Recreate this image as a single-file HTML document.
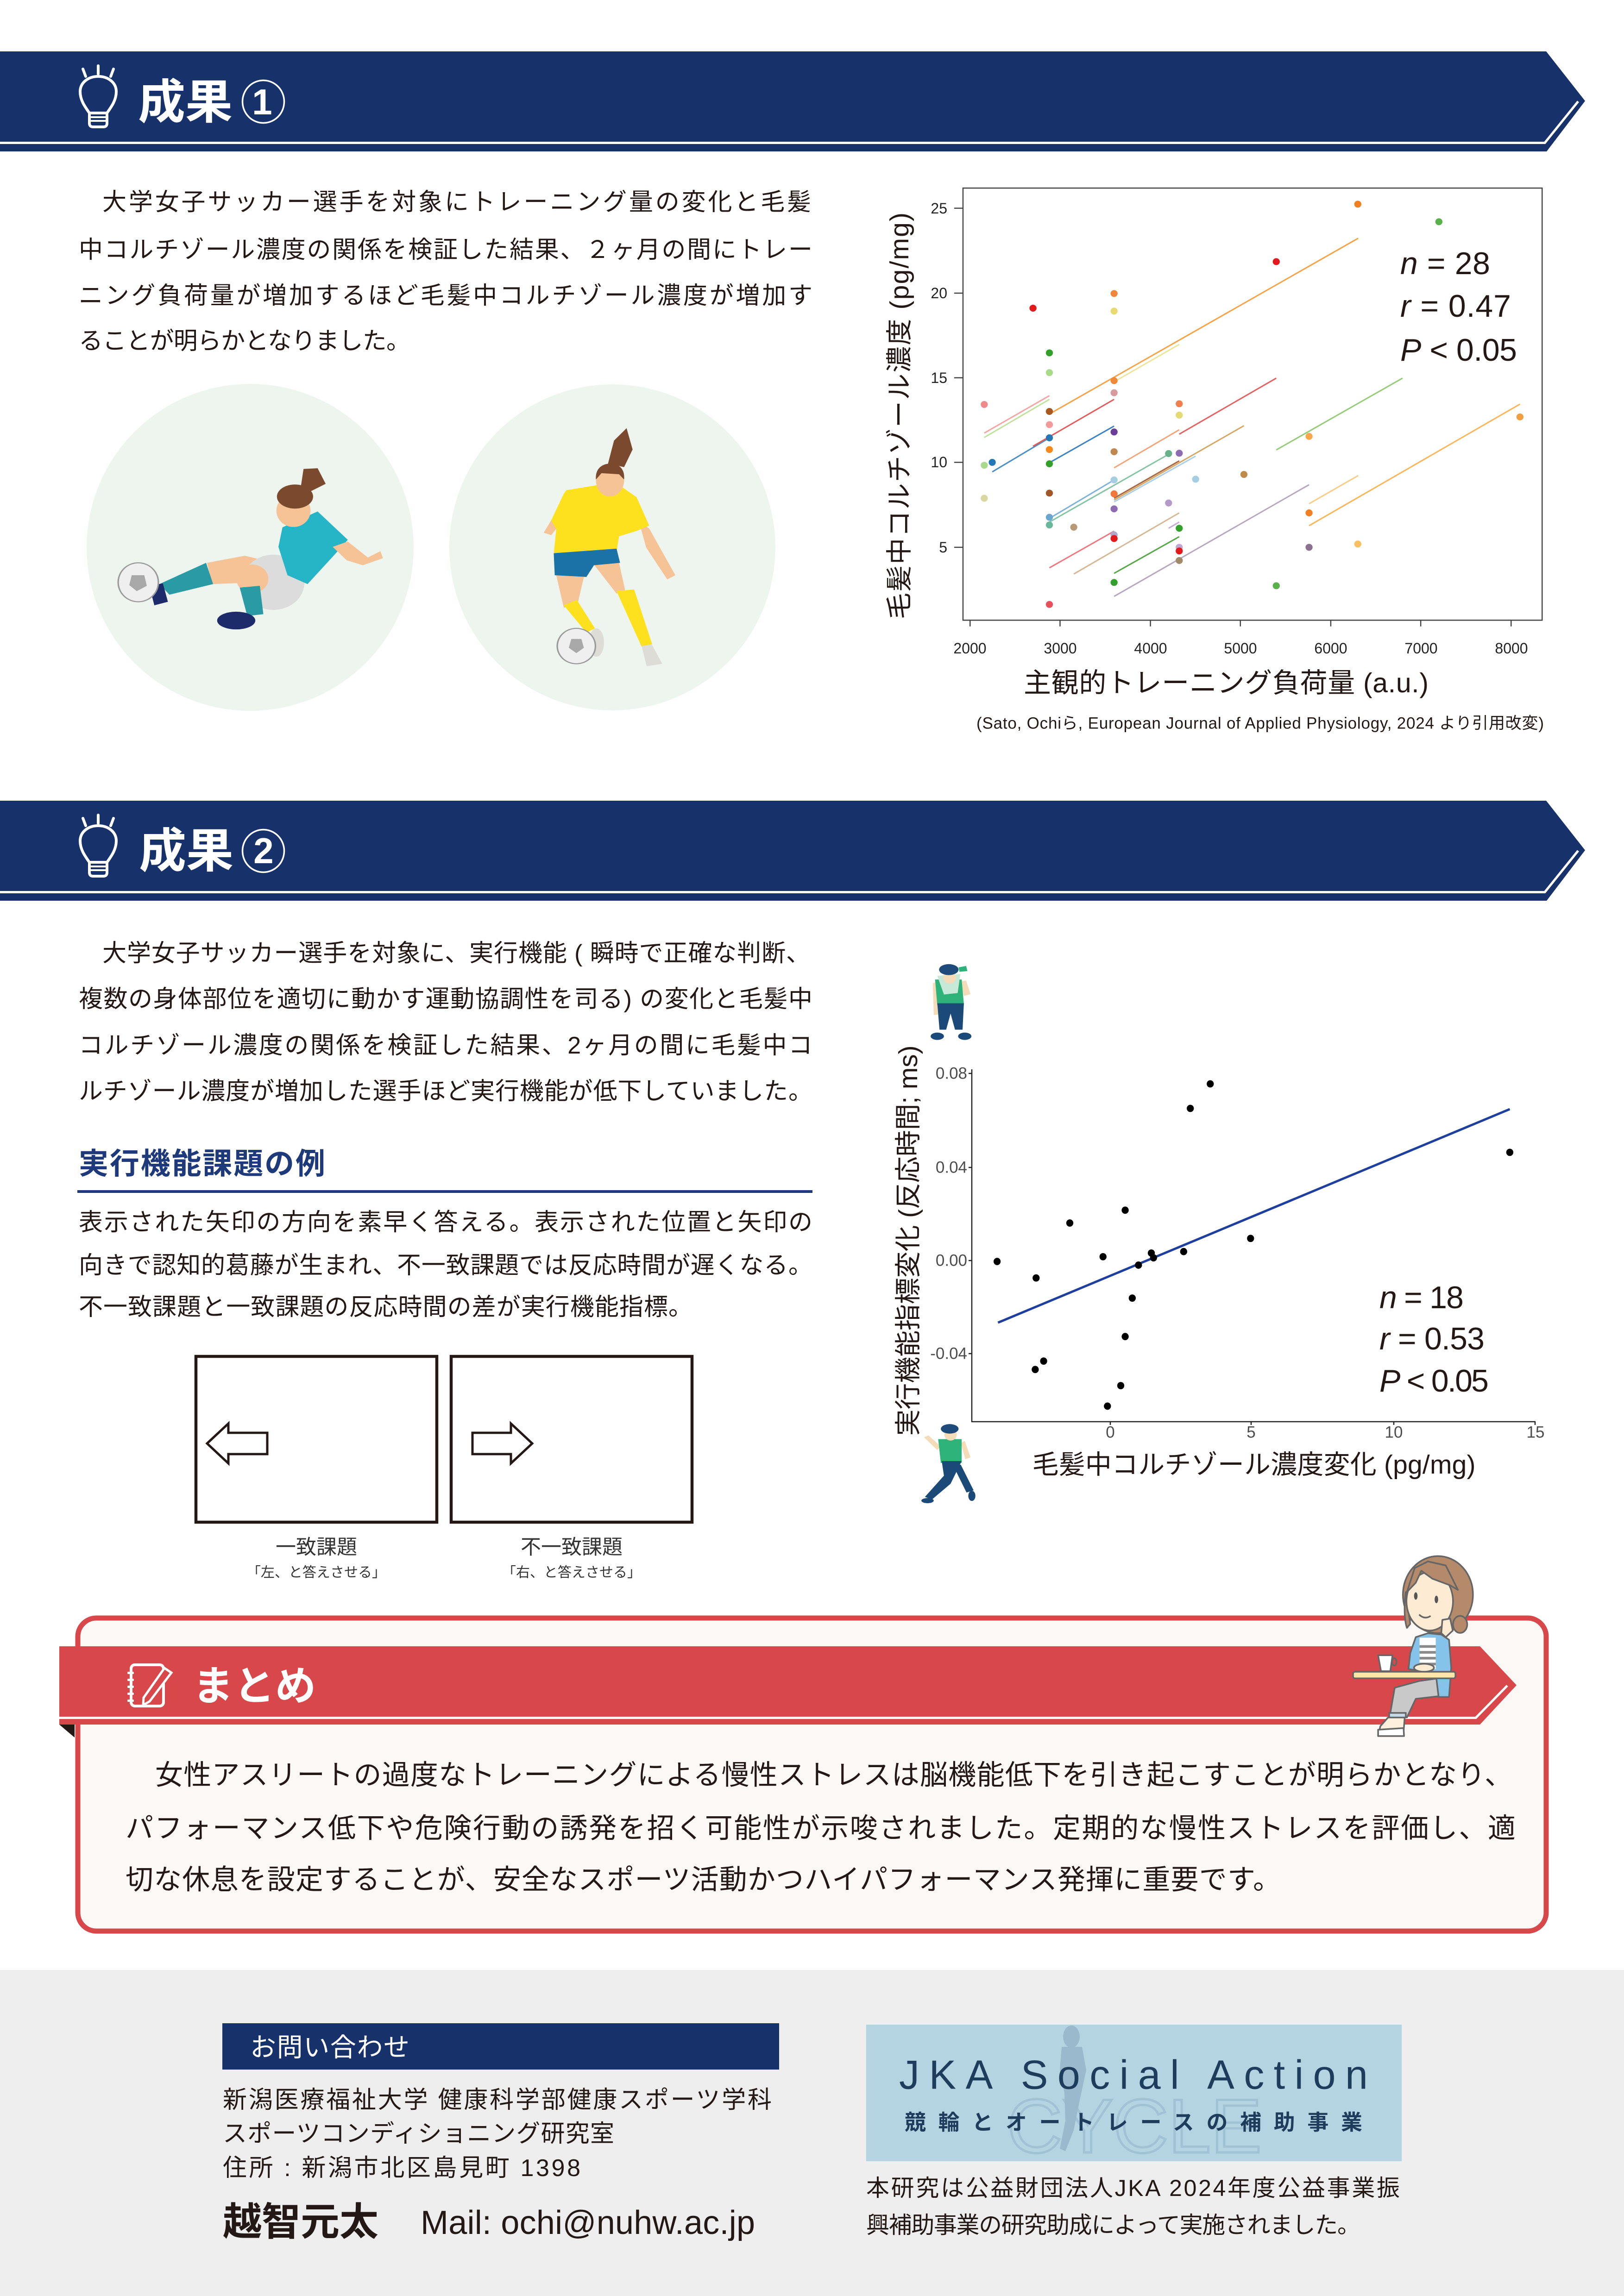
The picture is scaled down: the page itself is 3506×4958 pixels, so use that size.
<!DOCTYPE html>
<html><head><meta charset="utf-8">
<style>
html,body{margin:0;padding:0;background:#fff;}
svg{display:block;}
text{font-family:"Liberation Sans","Noto Sans CJK JP",sans-serif;dominant-baseline:central;}
text.bl{dominant-baseline:alphabetic;}
.ns *{vector-effect:non-scaling-stroke;}
</style></head><body>
<svg width="3506" height="4958" viewBox="0 0 3506 4958" xmlns="http://www.w3.org/2000/svg">
<rect x="0" y="0" width="3506" height="4958" fill="#fff"/>

<!-- ============ HEADER 1 ============ -->
<g id="hdr">
<polygon points="0,111 3338,111 3422,218 3339,327 0,327" fill="#17326b"/>
<polyline points="0,308.5 3335,308.5 3407,219" fill="none" stroke="#fff" stroke-width="5"/>
<g transform="translate(169,140)" fill="none" stroke="#fff" stroke-linecap="round">
<line x1="43" y1="2" x2="43" y2="20" stroke-width="6"/>
<line x1="10" y1="9" x2="16" y2="25" stroke-width="6"/>
<line x1="76" y1="9" x2="70" y2="25" stroke-width="6"/>
<path d="M24,104 C14,90 4,76 4,58 C4,38 22,25 43,25 C64,25 82,38 82,58 C82,76 72,90 62,104" stroke-width="6"/>
<path d="M24,104 L24,126 Q24,134 32,134 L54,134 Q62,134 62,126 L62,104 Z" stroke-width="6"/>
<line x1="24" y1="113" x2="62" y2="113" stroke-width="4"/>
<line x1="24" y1="121" x2="62" y2="121" stroke-width="4"/>
</g>
<text x="298" y="221" font-size="102" font-weight="bold" fill="#fff" textLength="204" lengthAdjust="spacingAndGlyphs">成果</text>
<ellipse cx="568.5" cy="219.5" rx="45" ry="46" fill="none" stroke="#fff" stroke-width="3.5"/>
</g>
<text x="566" y="220" font-size="78" font-weight="bold" fill="#fff" text-anchor="middle">1</text>

<!-- ============ SECTION 1 TEXT ============ -->
<g fill="#231815" font-size="52">
<text x="221" y="437" textLength="1530" lengthAdjust="spacing">大学女子サッカー選手を対象にトレーニング量の変化と毛髪</text>
<text x="170" y="540" textLength="1584" lengthAdjust="spacing">中コルチゾール濃度の関係を検証した結果、２ヶ月の間にトレー</text>
<text x="170" y="639" textLength="1584" lengthAdjust="spacing">ニング負荷量が増加するほど毛髪中コルチゾール濃度が増加す</text>
<text x="170" y="737" textLength="716" lengthAdjust="spacing">ることが明らかとなりました。</text>
</g>

<!-- illustration circles -->
<circle cx="540" cy="1182" r="353" fill="#eef5ef"/>
<circle cx="1322" cy="1182" r="352" fill="#eef5ef"/>

<!-- players -->
<g transform="translate(100,370) scale(1.0846,0.765)">
 <!-- left player -->
 <polygon points="320,1105 395,1085 440,1100 430,1160 330,1165" fill="#f5c396"/>
 <polygon points="225,1165 318,1105 332,1165 245,1195" fill="#2a9aa5"/>
 <polygon points="205,1170 232,1163 242,1215 215,1225" fill="#1d2b6a"/>
 <ellipse cx="183" cy="1160" rx="40" ry="55" fill="#efefef" stroke="#9a9a9a" stroke-width="3"/>
 <polygon points="170,1140 195,1140 200,1170 180,1185 165,1168" fill="#a8a8a8"/>
 <ellipse cx="452" cy="1160" rx="62" ry="78" fill="#dcdcdc"/>
 <ellipse cx="410" cy="1150" rx="32" ry="40" fill="#f5c396"/>
 <polygon points="385,1175 425,1170 432,1250 400,1255" fill="#2a9aa5"/>
 <ellipse cx="378" cy="1268" rx="38" ry="25" fill="#1d2b6a"/>
 <polygon points="470,1005 540,960 600,1040 575,1080 520,1165 480,1140 462,1060" fill="#25b5c6"/>
 <polygon points="570,1060 600,1045 640,1090 665,1072 670,1092 630,1112 598,1098" fill="#f5c396"/>
 <ellipse cx="492" cy="958" rx="34" ry="46" fill="#f5c396"/>
 <ellipse cx="495" cy="918" rx="36" ry="34" fill="#7b4a2e"/>
 <polygon points="505,905 512,840 540,838 556,882 528,902" fill="#7b4a2e"/>
 <!-- right player -->
 <polygon points="1118,825 1130,760 1155,725 1167,785 1150,835" fill="#7b4a2e"/>
 <polygon points="1035,910 1005,985 990,1020 1005,1027 1022,996 1046,942" fill="#f5c396"/>
 <polygon points="1180,990 1200,1008 1252,1140 1236,1152 1194,1062" fill="#f5c396"/>
 <polygon points="1015,1140 1070,1145 1058,1218 1030,1232" fill="#f5c396"/>
 <polygon points="1090,1110 1140,1105 1152,1182 1135,1192" fill="#f5c396"/>
 <polygon points="1030,1225 1056,1210 1092,1290 1075,1302" fill="#fde11e"/>
 <polygon points="1135,1185 1170,1180 1206,1335 1185,1342" fill="#fde11e"/>
 <ellipse cx="1095" cy="1330" rx="15" ry="40" fill="#dddcd6"/>
 <polygon points="1185,1340 1205,1335 1226,1390 1195,1397" fill="#dddcd6"/>
 <ellipse cx="1055" cy="1340" rx="38" ry="50" fill="#efefef" stroke="#9a9a9a" stroke-width="3"/>
 <polygon points="1045,1320 1065,1320 1070,1345 1055,1360 1040,1345" fill="#a8a8a8"/>
 <polygon points="1035,900 1100,885 1145,890 1175,920 1200,1000 1175,1015 1140,1030 1135,1075 1010,1080 1015,1010 1005,985 1030,910" fill="#fde11e"/>
 <polygon points="1010,1078 1135,1065 1142,1105 1090,1112 1075,1145 1012,1140" fill="#1a72a6"/>
 <ellipse cx="1122" cy="872" rx="28" ry="46" fill="#f5c396"/>
 <path d="M1094,870 C1092,835 1110,825 1122,825 C1140,825 1152,840 1150,870 L1140,855 L1105,852 Z" fill="#7b4a2e"/>
</g>

<!-- ============ CHART 1 ============ -->
<g class="ns" transform="translate(1880,380) scale(0.9566,0.7908)">
 <rect x="208" y="33" width="1307" height="1180" fill="#fff" stroke="#444" stroke-width="2.5"/>
 <g stroke="#444" stroke-width="2.5">
  <line x1="188" y1="88" x2="208" y2="88"/><line x1="188" y1="320" x2="208" y2="320"/>
  <line x1="188" y1="551" x2="208" y2="551"/><line x1="188" y1="782" x2="208" y2="782"/>
  <line x1="188" y1="1014" x2="208" y2="1014"/>
  <line x1="224" y1="1213" x2="224" y2="1230"/><line x1="427" y1="1213" x2="427" y2="1230"/>
  <line x1="631" y1="1213" x2="631" y2="1230"/><line x1="834" y1="1213" x2="834" y2="1230"/>
  <line x1="1038" y1="1213" x2="1038" y2="1230"/><line x1="1241" y1="1213" x2="1241" y2="1230"/>
  <line x1="1445" y1="1213" x2="1445" y2="1230"/>
 </g>
 <g stroke-width="3" fill="none">
  <line x1="256" y1="702" x2="403" y2="600" stroke="#f4a6a6"/>
  <line x1="256" y1="714" x2="403" y2="610" stroke="#bfe39a"/>
  <line x1="274" y1="808" x2="403" y2="715" stroke="#4a90c4"/>
  <line x1="366" y1="738" x2="549" y2="610" stroke="#e35a5a"/>
  <line x1="403" y1="650" x2="1100" y2="170" stroke="#f5a447"/>
  <line x1="549" y1="562" x2="696" y2="460" stroke="#ece59a"/>
  <line x1="403" y1="783" x2="549" y2="683" stroke="#3d82c2"/>
  <line x1="696" y1="705" x2="915" y2="552" stroke="#e56262"/>
  <line x1="549" y1="797" x2="696" y2="693" stroke="#f3a57a"/>
  <line x1="915" y1="748" x2="1200" y2="552" stroke="#95cc78"/>
  <line x1="549" y1="885" x2="842" y2="682" stroke="#d5a865"/>
  <line x1="549" y1="880" x2="696" y2="778" stroke="#a8673f"/>
  <line x1="549" y1="890" x2="733" y2="765" stroke="#a9d0e6"/>
  <line x1="403" y1="935" x2="549" y2="830" stroke="#7fb2da"/>
  <line x1="403" y1="945" x2="672" y2="760" stroke="#86c4a6"/>
  <line x1="403" y1="1070" x2="549" y2="970" stroke="#f07680"/>
  <line x1="458" y1="1087" x2="696" y2="920" stroke="#d6b894"/>
  <line x1="672" y1="962" x2="696" y2="945" stroke="#c4abd9"/>
  <line x1="549" y1="1085" x2="696" y2="985" stroke="#58a84a"/>
  <line x1="549" y1="1148" x2="989" y2="843" stroke="#b7a7bf"/>
  <line x1="989" y1="895" x2="1100" y2="818" stroke="#f9cc88"/>
  <line x1="989" y1="955" x2="1465" y2="623" stroke="#f9b65a"/>
 </g>
 <g>
  <ellipse cx="256" cy="624" rx="8" ry="9.5" fill="#f08a8a"/>
  <ellipse cx="256" cy="790" rx="8" ry="9.5" fill="#a9d98a"/>
  <ellipse cx="256" cy="880" rx="8" ry="9.5" fill="#d8d8a0"/>
  <ellipse cx="274" cy="782" rx="8" ry="9.5" fill="#2378b5"/>
  <ellipse cx="366" cy="361" rx="8" ry="9.5" fill="#e31a1c"/>
  <ellipse cx="403" cy="483" rx="8" ry="9.5" fill="#33a02c"/>
  <ellipse cx="403" cy="537" rx="8" ry="9.5" fill="#a9dc8a"/>
  <ellipse cx="403" cy="643" rx="8" ry="9.5" fill="#a9591e"/>
  <ellipse cx="403" cy="679" rx="8" ry="9.5" fill="#f59a9a"/>
  <ellipse cx="403" cy="715" rx="8" ry="9.5" fill="#2378b5"/>
  <ellipse cx="403" cy="747" rx="8" ry="9.5" fill="#f58a1a"/>
  <ellipse cx="403" cy="786" rx="8" ry="9.5" fill="#33a02c"/>
  <ellipse cx="403" cy="866" rx="8" ry="9.5" fill="#a0582a"/>
  <ellipse cx="403" cy="932" rx="8" ry="9.5" fill="#6aa6d0"/>
  <ellipse cx="403" cy="953" rx="8" ry="9.5" fill="#6ab89a"/>
  <ellipse cx="403" cy="1170" rx="8" ry="9.5" fill="#e8505a"/>
  <ellipse cx="458" cy="959" rx="8" ry="9.5" fill="#b89a78"/>
  <ellipse cx="549" cy="321" rx="8" ry="9.5" fill="#f0863a"/>
  <ellipse cx="549" cy="369" rx="8" ry="9.5" fill="#e6da70"/>
  <ellipse cx="549" cy="559" rx="8" ry="9.5" fill="#f0883a"/>
  <ellipse cx="549" cy="592" rx="8" ry="9.5" fill="#d89a9a"/>
  <ellipse cx="549" cy="699" rx="8" ry="9.5" fill="#6a3d9a"/>
  <ellipse cx="549" cy="753" rx="8" ry="9.5" fill="#c08850"/>
  <ellipse cx="549" cy="830" rx="8" ry="9.5" fill="#a6cee3"/>
  <ellipse cx="549" cy="868" rx="8" ry="9.5" fill="#f0783a"/>
  <ellipse cx="549" cy="909" rx="8" ry="9.5" fill="#8c6bb1"/>
  <ellipse cx="549" cy="980" rx="8" ry="9.5" fill="#b0a8c8"/>
  <ellipse cx="549" cy="990" rx="8" ry="9.5" fill="#e31a1c"/>
  <ellipse cx="549" cy="1110" rx="8" ry="9.5" fill="#33a02c"/>
  <ellipse cx="672" cy="758" rx="8" ry="9.5" fill="#66b08a"/>
  <ellipse cx="672" cy="893" rx="8" ry="9.5" fill="#b49ac8"/>
  <ellipse cx="696" cy="622" rx="8" ry="9.5" fill="#f08050"/>
  <ellipse cx="696" cy="653" rx="8" ry="9.5" fill="#e6da70"/>
  <ellipse cx="696" cy="757" rx="8" ry="9.5" fill="#8c6bb1"/>
  <ellipse cx="696" cy="962" rx="8" ry="9.5" fill="#33a02c"/>
  <ellipse cx="696" cy="1014" rx="8" ry="9.5" fill="#c0a8d0"/>
  <ellipse cx="696" cy="1024" rx="8" ry="9.5" fill="#e31a1c"/>
  <ellipse cx="696" cy="1050" rx="8" ry="9.5" fill="#a08a6a"/>
  <ellipse cx="733" cy="828" rx="8" ry="9.5" fill="#a6cee3"/>
  <ellipse cx="842" cy="815" rx="8" ry="9.5" fill="#c08a4a"/>
  <ellipse cx="915" cy="234" rx="8" ry="9.5" fill="#e31a1c"/>
  <ellipse cx="915" cy="1119" rx="8" ry="9.5" fill="#5ab04a"/>
  <ellipse cx="989" cy="711" rx="8" ry="9.5" fill="#f8a848"/>
  <ellipse cx="989" cy="920" rx="8" ry="9.5" fill="#f08020"/>
  <ellipse cx="989" cy="1014" rx="8" ry="9.5" fill="#8c7090"/>
  <ellipse cx="1099" cy="77" rx="8" ry="9.5" fill="#f08020"/>
  <ellipse cx="1099" cy="1005" rx="8" ry="9.5" fill="#f8c060"/>
  <ellipse cx="1282" cy="125" rx="8" ry="9.5" fill="#5ab04a"/>
  <ellipse cx="1465" cy="658" rx="8" ry="9.5" fill="#f0a040"/>
 </g>
</g>
<g font-size="32" fill="#222" text-anchor="end">
 <text x="2045" y="450">25</text><text x="2045" y="633">20</text><text x="2045" y="816">15</text>
 <text x="2045" y="998">10</text><text x="2045" y="1182">5</text>
</g>
<g font-size="32" fill="#222" text-anchor="middle">
 <text x="2094" y="1400">2000</text><text x="2289" y="1400">3000</text><text x="2484" y="1400">4000</text>
 <text x="2678" y="1400">5000</text><text x="2873" y="1400">6000</text><text x="3068" y="1400">7000</text>
 <text x="3263" y="1400">8000</text>
</g>
<text x="1942" y="898" font-size="57" fill="#231815" text-anchor="middle" transform="rotate(-90 1942 898)" textLength="878" lengthAdjust="spacing">毛髪中コルチゾール濃度 (pg/mg)</text>
<text x="2647" y="1475" font-size="59" fill="#231815" text-anchor="middle" textLength="874" lengthAdjust="spacing">主観的トレーニング負荷量 (a.u.)</text>
<text x="2108" y="1562" font-size="35" fill="#231815" textLength="1225" lengthAdjust="spacing">(Sato, Ochiら, European Journal of Applied Physiology, 2024 より引用改変)</text>
<g font-size="68" fill="#231815">
 <text class="bl" x="3023" y="592" textLength="194" lengthAdjust="spacing"><tspan font-style="italic">n</tspan> = 28</text>
 <text class="bl" x="3023" y="684" textLength="239" lengthAdjust="spacing"><tspan font-style="italic">r</tspan> = 0.47</text>
 <text class="bl" x="3023" y="779" textLength="252" lengthAdjust="spacing"><tspan font-style="italic">P</tspan> &lt; 0.05</text>
</g>

<!-- ============ HEADER 2 ============ -->
<g transform="translate(0,1618)">
<polygon points="0,111 3338,111 3422,218 3339,327 0,327" fill="#17326b"/>
<polyline points="0,308.5 3335,308.5 3407,219" fill="none" stroke="#fff" stroke-width="5"/>
<g transform="translate(169,140)" fill="none" stroke="#fff" stroke-linecap="round">
<line x1="43" y1="2" x2="43" y2="20" stroke-width="6"/>
<line x1="10" y1="9" x2="16" y2="25" stroke-width="6"/>
<line x1="76" y1="9" x2="70" y2="25" stroke-width="6"/>
<path d="M24,104 C14,90 4,76 4,58 C4,38 22,25 43,25 C64,25 82,38 82,58 C82,76 72,90 62,104" stroke-width="6"/>
<path d="M24,104 L24,126 Q24,134 32,134 L54,134 Q62,134 62,126 L62,104 Z" stroke-width="6"/>
<line x1="24" y1="113" x2="62" y2="113" stroke-width="4"/>
<line x1="24" y1="121" x2="62" y2="121" stroke-width="4"/>
</g>
<text x="300" y="220" font-size="102" font-weight="bold" fill="#fff" textLength="204" lengthAdjust="spacingAndGlyphs">成果</text>
<ellipse cx="568.5" cy="219.5" rx="45" ry="46" fill="none" stroke="#fff" stroke-width="3.5"/>
<text x="569" y="219" font-size="78" font-weight="bold" fill="#fff" text-anchor="middle">2</text>
</g>

<!-- ============ SECTION 2 TEXT ============ -->
<g fill="#231815" font-size="52">
<text x="221" y="2059" textLength="1528" lengthAdjust="spacing">大学女子サッカー選手を対象に、実行機能 ( 瞬時で正確な判断、</text>
<text x="170" y="2158" textLength="1584" lengthAdjust="spacing">複数の身体部位を適切に動かす運動協調性を司る) の変化と毛髪中</text>
<text x="170" y="2258" textLength="1584" lengthAdjust="spacing">コルチゾール濃度の関係を検証した結果、2ヶ月の間に毛髪中コ</text>
<text x="170" y="2357" textLength="1584" lengthAdjust="spacing">ルチゾール濃度が増加した選手ほど実行機能が低下していました。</text>
</g>
<text x="170" y="2513" font-size="64" font-weight="bold" fill="#1f3a7a" textLength="532" lengthAdjust="spacing">実行機能課題の例</text>
<rect x="167" y="2570" width="1587" height="6" fill="#1f3a7a"/>
<g fill="#231815" font-size="52">
<text x="170" y="2640" textLength="1584" lengthAdjust="spacing">表示された矢印の方向を素早く答える。表示された位置と矢印の</text>
<text x="170" y="2733" textLength="1584" lengthAdjust="spacing">向きで認知的葛藤が生まれ、不一致課題では反応時間が遅くなる。</text>
<text x="170" y="2823" textLength="1325" lengthAdjust="spacing">不一致課題と一致課題の反応時間の差が実行機能指標。</text>
</g>

<!-- task boxes -->
<rect x="423" y="2929" width="520" height="358" fill="#fff" stroke="#231815" stroke-width="6.5"/>
<rect x="974" y="2929" width="520" height="358" fill="#fff" stroke="#231815" stroke-width="6.5"/>
<polygon points="447,3117 493,3074 493,3094 577,3094 577,3140 493,3140 493,3160" fill="#fff" stroke="#231815" stroke-width="5"/>
<polygon points="1149,3117 1103,3074 1103,3094 1020,3094 1020,3140 1103,3140 1103,3160" fill="#fff" stroke="#231815" stroke-width="5"/>
<g fill="#333" text-anchor="middle">
<text x="683" y="3341" font-size="44">一致課題</text>
<text x="683" y="3396" font-size="30">「左、と答えさせる」</text>
<text x="1234" y="3341" font-size="44">不一致課題</text>
<text x="1234" y="3396" font-size="30">「右、と答えさせる」</text>
</g>

<!-- ============ CHART 2 ============ -->
<g class="ns" transform="translate(1880,2040) scale(0.9566,0.7908)">
 <!-- top figure -->
 <polygon points="140,105 152,100 155,190 142,192" fill="#f5dcb8"/>
 <polygon points="202,100 215,98 225,135 210,140" fill="#f5dcb8"/>
 <polygon points="145,95 205,95 210,162 150,165" fill="#2db37a"/>
 <polygon points="150,85 202,80 196,132 165,136" fill="#c8e8d8"/>
 <ellipse cx="178" cy="90" rx="14" ry="16" fill="#f5dcb8"/>
 <ellipse cx="176" cy="68" rx="22" ry="15" fill="#1f4b7a"/>
 <polygon points="198,62 215,58 218,72 200,74" fill="#2db37a"/>
 <polygon points="150,160 210,160 207,232 190,232 180,188 170,232 155,232" fill="#1b4a78"/>
 <ellipse cx="150" cy="250" rx="15" ry="10" fill="#1b4a78"/>
 <ellipse cx="212" cy="250" rx="15" ry="10" fill="#1b4a78"/>
 <!-- bottom runner -->
 <polygon points="120,1345 130,1340 158,1370 150,1380" fill="#f5dcb8"/>
 <polygon points="203,1360 212,1355 225,1400 213,1405" fill="#f5dcb8"/>
 <polygon points="152,1350 205,1350 205,1415 158,1415" fill="#2db37a"/>
 <ellipse cx="180" cy="1338" rx="14" ry="16" fill="#f5dcb8"/>
 <ellipse cx="178" cy="1322" rx="20" ry="13" fill="#1f4b7a"/>
 <polygon points="160,1410 205,1410 180,1472 138,1515 122,1508 165,1450" fill="#1b4a78"/>
 <polygon points="185,1420 203,1420 232,1490 216,1496" fill="#1b4a78"/>
 <ellipse cx="128" cy="1518" rx="14" ry="7" fill="#1b4a78"/>
 <ellipse cx="228" cy="1505" rx="8" ry="14" fill="#1b4a78"/>
 <!-- regression -->
 <line x1="287" y1="1032" x2="1442" y2="449" stroke="#1f3f9f" stroke-width="5"/>
 <g fill="#000">
  <ellipse cx="285" cy="865" rx="8" ry="10"/><ellipse cx="373" cy="910" rx="8" ry="10"/>
  <ellipse cx="449" cy="760" rx="8" ry="10"/><ellipse cx="524" cy="852" rx="8" ry="10"/>
  <ellipse cx="574" cy="725" rx="8" ry="10"/><ellipse cx="604" cy="875" rx="8" ry="10"/>
  <ellipse cx="633" cy="842" rx="8" ry="10"/><ellipse cx="638" cy="855" rx="8" ry="10"/>
  <ellipse cx="706" cy="838" rx="8" ry="10"/><ellipse cx="721" cy="447" rx="8" ry="10"/>
  <ellipse cx="766" cy="380" rx="8" ry="10"/><ellipse cx="857" cy="802" rx="8" ry="10"/>
  <ellipse cx="590" cy="965" rx="8" ry="10"/><ellipse cx="574" cy="1070" rx="8" ry="10"/>
  <ellipse cx="390" cy="1137" rx="8" ry="10"/><ellipse cx="371" cy="1160" rx="8" ry="10"/>
  <ellipse cx="564" cy="1204" rx="8" ry="10"/><ellipse cx="534" cy="1260" rx="8" ry="10"/>
  <ellipse cx="1442" cy="567" rx="8" ry="10"/>
 </g>
</g>
<g stroke="#222" stroke-width="2.5">
 <line x1="2098" y1="2309" x2="2098" y2="3071"/>
 <line x1="2097" y1="3070" x2="3315" y2="3070"/>
 <line x1="2091" y1="2318" x2="2098" y2="2318"/><line x1="2091" y1="2521" x2="2098" y2="2521"/>
 <line x1="2091" y1="2722" x2="2098" y2="2722"/><line x1="2091" y1="2923" x2="2098" y2="2923"/>
 <line x1="2397" y1="3070" x2="2397" y2="3077"/><line x1="2701" y1="3070" x2="2701" y2="3077"/>
 <line x1="3009" y1="3070" x2="3009" y2="3077"/><line x1="3314" y1="3070" x2="3314" y2="3077"/>
</g>
<g font-size="35" fill="#4d4d4d" text-anchor="end">
 <text x="2088" y="2318">0.08</text><text x="2088" y="2521">0.04</text>
 <text x="2088" y="2722">0.00</text><text x="2088" y="2923">-0.04</text>
</g>
<g font-size="35" fill="#4d4d4d" text-anchor="middle">
 <text x="2397" y="3093">0</text><text x="2701" y="3093">5</text>
 <text x="3009" y="3093">10</text><text x="3315" y="3093">15</text>
</g>
<text x="1961" y="2679" font-size="57" fill="#231815" text-anchor="middle" transform="rotate(-90 1961 2679)" textLength="843" lengthAdjust="spacing">実行機能指標変化 (反応時間; ms)</text>
<text x="2707" y="3163" font-size="57" fill="#231815" text-anchor="middle" textLength="957" lengthAdjust="spacing">毛髪中コルチゾール濃度変化 (pg/mg)</text>
<g font-size="68" fill="#231815">
 <text class="bl" x="2978" y="2825" textLength="182" lengthAdjust="spacing"><tspan font-style="italic">n</tspan> = 18</text>
 <text class="bl" x="2978" y="2914" textLength="227" lengthAdjust="spacing"><tspan font-style="italic">r</tspan> = 0.53</text>
 <text class="bl" x="2978" y="3005" textLength="236" lengthAdjust="spacing"><tspan font-style="italic">P</tspan> &lt; 0.05</text>
</g>

<!-- ============ SUMMARY ============ -->
<rect x="168" y="3494" width="3170" height="676" rx="40" ry="40" fill="#fcf8f5" stroke="#d8484a" stroke-width="11"/>
<polygon points="128,3555 3195,3555 3274,3639 3195,3724 128,3724" fill="#d8484a"/>
<polyline points="128,3709.5 3186,3709.5 3254,3640" fill="none" stroke="#fff" stroke-width="5"/>
<polygon points="128,3724 161,3724 161,3752" fill="#231815"/>
<!-- notebook icon -->
<g transform="translate(273,3592)" fill="none" stroke="#fff">
 <rect x="10" y="3" width="70" height="89" rx="8" stroke-width="6"/>
 <g fill="#fff" stroke="none">
  <rect x="2" y="18" width="14" height="5" rx="2"/><rect x="2" y="33" width="14" height="5" rx="2"/>
  <rect x="2" y="48" width="14" height="5" rx="2"/><rect x="2" y="63" width="14" height="5" rx="2"/>
  <rect x="2" y="78" width="14" height="5" rx="2"/>
 </g>
 <polygon points="82,10 97,20 50,82 36,90 37,74" fill="#d8484a" stroke-width="5"/>
</g>
<text x="416" y="3641" font-size="88" font-weight="bold" fill="#fff" textLength="266" lengthAdjust="spacing">まとめ</text>

<!-- woman -->
<g class="ns" transform="translate(2700,3300) scale(0.4785,0.574)" stroke="#666" stroke-width="3.5" stroke-linejoin="round">
 <ellipse cx="845" cy="250" rx="158" ry="145" fill="#b48a6a"/>
 <path d="M700,240 C690,300 695,350 705,375 L720,360 Z" fill="#b48a6a"/>
 <circle cx="945" cy="362" r="32" fill="#b48a6a"/>
 <polygon points="650,600 760,575 845,565 850,632 745,642 705,712 628,705" fill="#c9c9c9"/>
 <rect x="625" y="695" width="75" height="17" fill="#c5d9ea"/>
 <polygon points="620,712 695,712 690,765 580,765 585,745" fill="#fdf0dc"/>
 <polygon points="575,758 690,752 692,782 575,782" fill="#fff"/>
 <polygon points="745,410 800,395 860,400 895,420 905,525 895,635 848,635 835,545 712,530 720,470" fill="#86c3ea"/>
 <rect x="762" y="412" width="73" height="118" fill="#fff" stroke="none"/>
 <g fill="#8a8a8a" stroke="none">
  <rect x="762" y="440" width="73" height="10"/><rect x="762" y="462" width="73" height="10"/>
  <rect x="762" y="484" width="73" height="10"/><rect x="762" y="506" width="73" height="10"/>
 </g>
 <ellipse cx="782" cy="525" rx="45" ry="15" fill="#fdebd3"/>
 <ellipse cx="808" cy="275" rx="105" ry="110" fill="#fdebd3"/>
 <polygon points="705,240 740,150 800,125 880,140 935,232 900,215 820,190 770,160 745,205" fill="#b48a6a"/>
 <ellipse cx="745" cy="255" rx="8" ry="14" fill="#555" stroke="none"/>
 <ellipse cx="838" cy="268" rx="8" ry="14" fill="#555" stroke="none"/>
 <path d="M760,325 Q785,345 812,330" fill="none"/>
 <polygon points="865,345 900,340 912,385 880,410 860,395" fill="#fdebd3"/>
 <rect x="462" y="540" width="462" height="25" rx="8" fill="#fde7a6"/>
 <polygon points="575,478 640,478 630,538 588,538" fill="#fff"/>
 <ellipse cx="648" cy="503" rx="10" ry="14" fill="none"/>
</g>

<g fill="#231815" font-size="60">
<text x="335" y="3833" textLength="2930" lengthAdjust="spacing">女性アスリートの過度なトレーニングによる慢性ストレスは脳機能低下を引き起こすことが明らかとなり、</text>
<text x="271" y="3948" textLength="3001" lengthAdjust="spacing">パフォーマンス低下や危険行動の誘発を招く可能性が示唆されました。定期的な慢性ストレスを評価し、適</text>
<text x="271" y="4059" textLength="2494" lengthAdjust="spacing">切な休息を設定することが、安全なスポーツ活動かつハイパフォーマンス発揮に重要です。</text>
</g>

<!-- ============ FOOTER ============ -->
<rect x="0" y="4254" width="3506" height="704" fill="#edeeed"/>
<rect x="480" y="4369" width="1202" height="100" fill="#17326b"/>
<text x="540" y="4421" font-size="56" fill="#fff" textLength="344" lengthAdjust="spacing">お問い合わせ</text>
<g fill="#231815" font-size="52">
<text x="481" y="4535" textLength="1185" lengthAdjust="spacing">新潟医療福祉大学 健康科学部健康スポーツ学科</text>
<text x="481" y="4608" textLength="845" lengthAdjust="spacing">スポーツコンディショニング研究室</text>
<text x="481" y="4682" textLength="772" lengthAdjust="spacing">住所 : 新潟市北区島見町 1398</text>
</g>
<text x="481" y="4798" font-size="84" font-weight="bold" fill="#231815" textLength="336" lengthAdjust="spacing">越智元太</text>
<text x="908" y="4800" font-size="72" fill="#231815" textLength="722" lengthAdjust="spacing">Mail: ochi@nuhw.ac.jp</text>

<rect x="1870" y="4372" width="1156" height="295" fill="#b4d4e1"/>
<text x="2449" y="4591" font-size="165" fill="none" stroke="#a0c2d4" stroke-width="5" text-anchor="middle" textLength="550" lengthAdjust="spacing">CYCLE</text>
<g fill="#9ab9cc">
 <ellipse cx="2313" cy="4398" rx="18" ry="24"/>
 <polygon points="2292,4420 2336,4420 2345,4470 2330,4540 2318,4600 2300,4645 2288,4640 2300,4580 2298,4520 2288,4470"/>
</g>
<text x="1941" y="4480" font-size="88" fill="#1e3d5c" textLength="1012" lengthAdjust="spacing">JKA Social Action</text>
<text x="1953" y="4583" font-size="46" font-weight="bold" fill="#1e3d5c" textLength="988" lengthAdjust="spacing">競輪とオートレースの補助事業</text>

<g fill="#231815" font-size="50">
<text x="1870" y="4725" textLength="1152" lengthAdjust="spacing">本研究は公益財団法人JKA 2024年度公益事業振</text>
<text x="1870" y="4805" textLength="1067" lengthAdjust="spacing">興補助事業の研究助成によって実施されました。</text>
</g>
</svg>
</body></html>
